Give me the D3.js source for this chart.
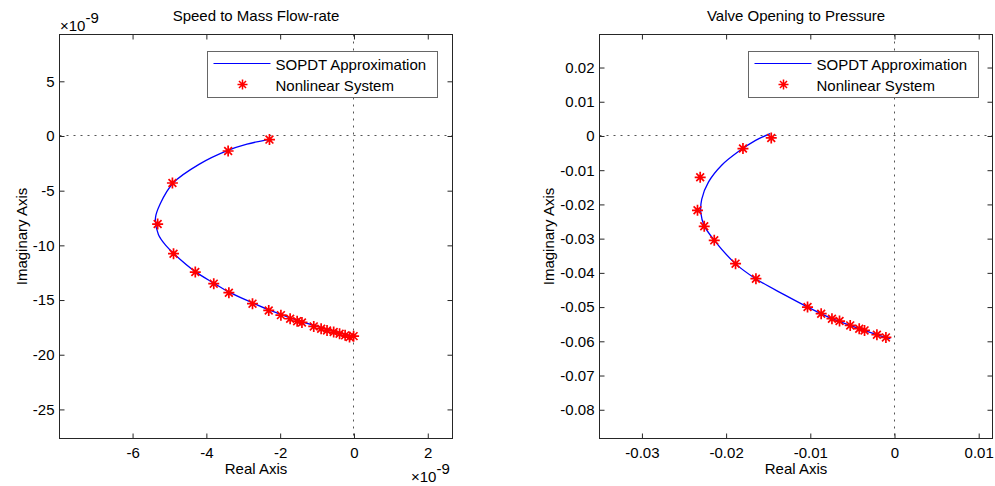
<!DOCTYPE html>
<html>
<head>
<meta charset="utf-8">
<script src="https://cdn.jsdelivr.net/npm/d3@7"></script>
<style>
  body { margin: 0; background: #fff; }
  text { font-family: "Liberation Sans", Arial, sans-serif; }
</style>
</head>
<body>
<div id="chart"></div>
<script>
// Speed to Mass Flow-rate (values in units, axes scaled by 1e-9)
var leftCurveRe = [-2.30, -2.9, -3.4, -4.2, -4.9, -5.25, -5.38, -5.3, -5.1, -4.85, -4.3, -3.8, -3.4, -2.75, -2.3, -1.75, -1.1, -0.55, -0.1, 0.0];
var leftCurveIm = [-0.30, -0.75, -1.30, -2.60, -4.30, -6.20, -7.5, -9.0, -10.0, -10.85, -12.4, -13.45, -14.25, -15.25, -15.9, -16.6, -17.3, -17.85, -18.25, -18.35];
var leftStarRe = [-2.29, -3.41, -4.92, -5.32, -4.89, -4.30, -3.80, -3.39, -2.75, -2.31, -1.98, -1.73, -1.54, -1.41, -1.09, -0.89, -0.73, -0.55, -0.39, -0.24, -0.12, -0.01];
var leftStarIm = [-0.33, -1.37, -4.30, -8.05, -10.76, -12.44, -13.50, -14.33, -15.33, -15.95, -16.38, -16.71, -16.93, -17.05, -17.41, -17.62, -17.78, -17.93, -18.08, -18.23, -18.39, -18.30];
var leftXTicks = [-6, -4, -2, 0, 2];
var leftYTicks = [5, 0, -5, -10, -15, -20, -25];

// Valve Opening to Pressure
var rightCurveRe = [-0.01476, -0.0165, -0.0185, -0.0205, -0.0221, -0.0229, -0.0230, -0.0226, -0.0214, -0.0189, -0.0165, -0.0130, -0.0103, -0.0074, -0.0042, -0.0010, -0.0005];
var rightCurveIm = [0.0007, -0.0013, -0.0045, -0.0085, -0.0135, -0.0185, -0.0225, -0.0262, -0.0305, -0.0373, -0.0417, -0.0465, -0.0500, -0.0534, -0.0563, -0.0589, -0.0592];
var rightStarRe = [-0.01464, -0.01800, -0.02308, -0.02340, -0.02260, -0.02141, -0.01888, -0.01646, -0.01033, -0.00871, -0.00743, -0.00653, -0.00526, -0.00419, -0.00356, -0.00209, -0.00102];
var rightStarIm = [-0.00058, -0.00368, -0.01208, -0.02173, -0.02640, -0.03050, -0.03731, -0.04170, -0.05000, -0.05193, -0.05339, -0.05409, -0.05535, -0.05632, -0.05681, -0.05807, -0.05886];
var rightXTicks = [-0.03, -0.02, -0.01, 0, 0.01];
var rightYTicks = [0.02, 0.01, 0, -0.01, -0.02, -0.03, -0.04, -0.05, -0.06, -0.07, -0.08];

var legendLabels = ["SOPDT Approximation", "Nonlinear System"];

var svg = d3.select("#chart").append("svg")
    .attr("width", 995)
    .attr("height", 486);

var fontSize = 15;
var axisColor = "#262626";

function fmt(v) {
    var s = String(+v.toFixed(6));
    return s.replace("\u2212", "-");
}

function crisp(v) { return Math.round(v - 0.5) + 0.5; }

function drawPanel(opt) {
    var x = d3.scaleLinear().domain(opt.xDomain).range([opt.left, opt.right]);
    var y = d3.scaleLinear().domain(opt.yDomain).range([opt.bottom, opt.top]);
    var g = svg.append("g");

    // white plot area
    g.append("rect")
        .attr("x", opt.left).attr("y", opt.top)
        .attr("width", opt.right - opt.left).attr("height", opt.bottom - opt.top)
        .attr("fill", "#fff");

    // dotted zero lines
    g.append("line")
        .attr("x1", opt.left).attr("x2", opt.right)
        .attr("y1", crisp(y(0))).attr("y2", crisp(y(0)))
        .attr("stroke", "#555").attr("stroke-width", 1)
        .attr("stroke-dasharray", "2,5");
    g.append("line")
        .attr("x1", crisp(x(0))).attr("x2", crisp(x(0)))
        .attr("y1", opt.top).attr("y2", opt.bottom)
        .attr("stroke", "#555").attr("stroke-width", 1)
        .attr("stroke-dasharray", "2,5");

    // curve
    var pts = opt.curveRe.map(function (d, i) { return [d * opt.k, opt.curveIm[i] * opt.k]; });
    g.append("path")
        .datum(pts)
        .attr("fill", "none")
        .attr("stroke", "#0000ff")
        .attr("stroke-width", 1.3)
        .attr("d", d3.line()
            .x(function (d) { return x(d[0]); })
            .y(function (d) { return y(d[1]); })
            .curve(d3.curveCatmullRom.alpha(0.5)));

    // stars
    var stars = opt.starRe.map(function (d, i) { return [d * opt.k, opt.starIm[i] * opt.k]; });
    g.selectAll(".star")
        .data(stars)
        .enter()
        .append("path")
        .attr("class", "star")
        .attr("transform", function (d) { return "translate(" + x(d[0]) + "," + y(d[1]) + ")"; })
        .attr("d", starPath(5.5))
        .attr("fill", "none")
        .attr("stroke", "#ff0000")
        .attr("stroke-width", 1.7);

    // axes with inward ticks
    var xt = opt.xTicks.map(function (d) { return d * opt.k; });
    var yt = opt.yTicks.map(function (d) { return d * opt.k; });

    var bottomAxis = g.append("g")
        .attr("transform", "translate(0," + opt.bottom + ")")
        .call(d3.axisBottom(x).tickValues(xt).tickSizeInner(-5).tickSizeOuter(0).tickPadding(9)
            .tickFormat(function (d) { return fmt(d / opt.k); }));
    var topAxis = g.append("g")
        .attr("transform", "translate(0," + opt.top + ")")
        .call(d3.axisTop(x).tickValues(xt).tickSizeInner(-5).tickSizeOuter(0).tickFormat(""));
    var leftAxis = g.append("g")
        .attr("transform", "translate(" + opt.left + ",0)")
        .call(d3.axisLeft(y).tickValues(yt).tickSizeInner(-5).tickSizeOuter(0).tickPadding(5)
            .tickFormat(function (d) { return fmt(d / opt.k); }));
    var rightAxis = g.append("g")
        .attr("transform", "translate(" + opt.right + ",0)")
        .call(d3.axisRight(y).tickValues(yt).tickSizeInner(-5).tickSizeOuter(0).tickFormat(""));

    [bottomAxis, topAxis, leftAxis, rightAxis].forEach(function (a) {
        a.select(".domain").remove();
        a.selectAll("line").attr("stroke", axisColor);
        a.selectAll("text")
            .attr("fill", "#000")
            .style("font-size", fontSize + "px")
            .style("font-family", "'Liberation Sans', Arial, sans-serif");
    });

    // frame
    g.append("rect")
        .attr("x", opt.left).attr("y", opt.top)
        .attr("width", opt.right - opt.left).attr("height", opt.bottom - opt.top)
        .attr("fill", "none")
        .attr("stroke", axisColor)
        .attr("stroke-width", 1);

    // title and axis labels
    var cx = (opt.left + opt.right) / 2;
    g.append("text")
        .attr("x", cx).attr("y", 21)
        .attr("text-anchor", "middle")
        .style("font-size", fontSize + "px")
        .text(opt.title);
    g.append("text")
        .attr("x", cx).attr("y", 474)
        .attr("text-anchor", "middle")
        .style("font-size", fontSize + "px")
        .text("Real Axis");
    g.append("text")
        .attr("transform", "translate(" + opt.yLabelX + "," + ((opt.top + opt.bottom) / 2) + ") rotate(-90)")
        .attr("text-anchor", "middle")
        .style("font-size", fontSize + "px")
        .text("Imaginary Axis");

    // legend
    var lg = g.append("g").attr("transform", "translate(" + opt.legendX + ",51.5)");
    lg.append("rect")
        .attr("x", 0).attr("y", 0)
        .attr("width", 230).attr("height", 46)
        .attr("fill", "#fff")
        .attr("stroke", "#666")
        .attr("stroke-width", 1);
    lg.append("line")
        .attr("x1", 6).attr("x2", 63)
        .attr("y1", 12).attr("y2", 12)
        .attr("stroke", "#0000ff")
        .attr("stroke-width", 1);
    lg.append("path")
        .attr("transform", "translate(35,33)")
        .attr("d", starPath(5))
        .attr("fill", "none")
        .attr("stroke", "#ff0000")
        .attr("stroke-width", 1.5);
    lg.selectAll(".ltxt")
        .data(legendLabels)
        .enter()
        .append("text")
        .attr("x", 68)
        .attr("y", function (d, i) { return 18 + i * 21; })
        .style("font-size", fontSize + "px")
        .text(function (d) { return d; });

    return { x: x, y: y };
}

function starPath(r) {
    var d = r * Math.SQRT1_2;
    return "M" + (-r) + ",0L" + r + ",0" +
        "M0," + (-r) + "L0," + r +
        "M" + (-d) + "," + (-d) + "L" + d + "," + d +
        "M" + (-d) + "," + d + "L" + d + "," + (-d);
}

drawPanel({
    left: 59.5, right: 452.5, top: 34.5, bottom: 438.5,
    xDomain: [-7.98e-9, 2.67e-9], yDomain: [-27.66e-9, 9.28e-9],
    k: 1e-9,
    curveRe: leftCurveRe, curveIm: leftCurveIm,
    starRe: leftStarRe, starIm: leftStarIm,
    xTicks: leftXTicks, yTicks: leftYTicks,
    title: "Speed to Mass Flow-rate",
    yLabelX: 27,
    legendX: 207.5
});

drawPanel({
    left: 599.5, right: 992.5, top: 34.5, bottom: 438.5,
    xDomain: [-0.03504, 0.01164], yDomain: [-0.0884, 0.02965],
    k: 1,
    curveRe: rightCurveRe, curveIm: rightCurveIm,
    starRe: rightStarRe, starIm: rightStarIm,
    xTicks: rightXTicks, yTicks: rightYTicks,
    title: "Valve Opening to Pressure",
    yLabelX: 554,
    legendX: 748.5
});

// exponent labels for left panel
function expLabel(xp, yb) {
    var t = svg.append("text")
        .attr("x", xp).attr("y", yb)
        .style("font-size", fontSize + "px");
    t.append("tspan").text("\u00d710");
    t.append("tspan").attr("dy", -8).style("font-size", fontSize + "px").text("-9");
}
expLabel(60, 31);
expLabel(411, 482);
</script>
</body>
</html>
